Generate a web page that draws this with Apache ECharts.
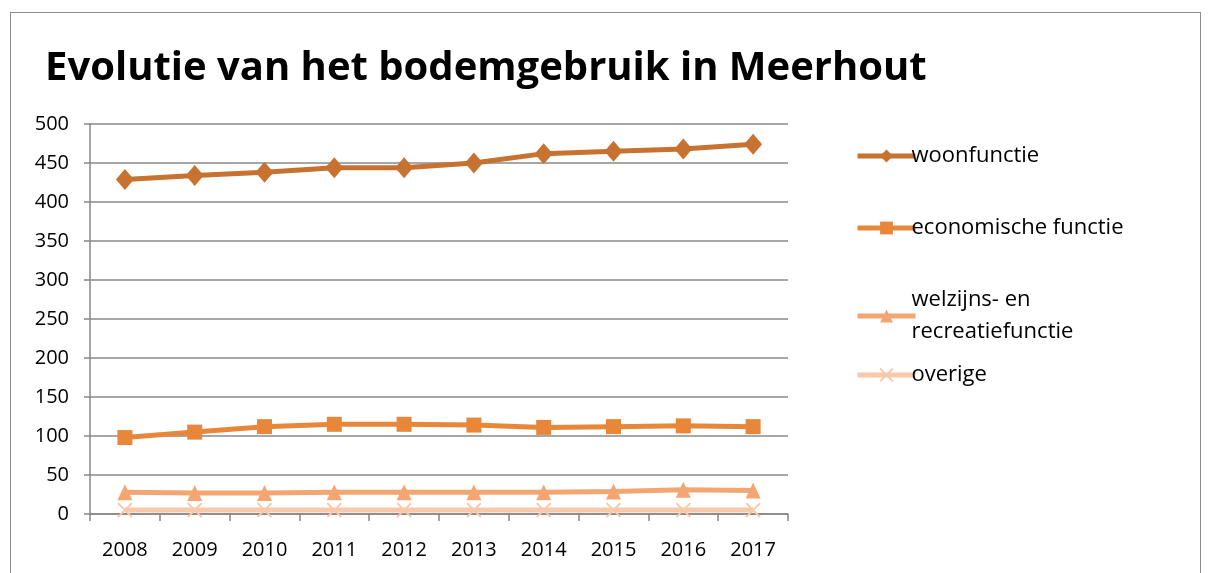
<!DOCTYPE html>
<html>
<head>
<meta charset="utf-8">
<script src="https://cdn.jsdelivr.net/npm/echarts@6/dist/echarts.min.js"></script>
<style>
  html, body { margin: 0; padding: 0; background: #fff; }
  #frame { position: absolute; left: 10px; top: 12px; width: 1189px; height: 570px; border: 1.5px solid #8c8c8c; border-bottom: none; }
  #chart { position: absolute; left: 0; top: 0; width: 1209px; height: 573px; }
</style>
</head>
<body>
<div id="frame"></div>
<div id="chart"></div>
<script>
// jaren op de x-as
var years = ['2008', '2009', '2010', '2011', '2012', '2013', '2014', '2015', '2016', '2017']
// waarden
var woonfunctie = [429, 434, 438, 444, 444, 450, 462, 465, 468, 474]
var economisch = [98, 105, 112, 115, 115, 114, 111, 112, 113, 112]
var welzijn = [28, 27, 27, 28, 28, 28, 28, 29, 31, 30]
var overige = [5, 5, 5, 5, 5, 5, 5, 5, 5, 5]

var names = ['woonfunctie', 'economische functie', 'welzijns- en recreatiefunctie', 'overige']
var colors = ['#C77230', '#E8873A', '#F4A672', '#F8C8AA']

var font = 'Open Sans, Noto Sans, sans-serif'
var crossPath = 'path://M0,0L10,10M10,0L0,10'

function legendFor(i, top) {
  return {
    data: [names[i]],
    left: 850,
    top: top,
    orient: 'vertical',
    itemWidth: 58,
    itemHeight: 16,
    itemGap: 0,
    lineStyle: { width: 5 },
    formatter: function (n) {
      return n === names[2] ? 'welzijns- en\nrecreatiefunctie' : n
    },
    textStyle: { fontFamily: font, fontSize: 22, color: '#000', padding: [0, 0, 0, -9], lineHeight: 32 }
  }
}

var myChart = echarts.init(document.getElementById('chart'))
var options = {
  animation: false,
  color: colors,
  title: {
    text: 'Evolutie van het bodemgebruik in Meerhout',
    left: 40,
    top: 44,
    textStyle: { fontFamily: font, fontSize: 40, fontWeight: 'bold', color: '#000' }
  },
  legend: [legendFor(0, 135), legendFor(1, 207), legendFor(2, 279), legendFor(3, 354)],
  grid: { left: 90, right: 421, top: 124, bottom: 59 },
  xAxis: {
    type: 'category',
    data: years,
    boundaryGap: true,
    axisLine: { lineStyle: { color: '#878787', width: 1.5 } },
    axisTick: { show: true, length: 7, lineStyle: { color: '#878787', width: 1.5 } },
    axisLabel: { fontFamily: font, fontSize: 20, color: '#000', margin: 26 }
  },
  yAxis: {
    type: 'value',
    min: 0,
    max: 500,
    interval: 50,
    axisLine: { show: true, lineStyle: { color: '#878787', width: 1.5 } },
    axisTick: { show: true, length: 6, lineStyle: { color: '#878787', width: 1.5 } },
    splitLine: { lineStyle: { color: '#8a8a8a', width: 1.5 } },
    axisLabel: { fontFamily: font, fontSize: 20, color: '#000', margin: 21 }
  },
  series: [
    {
      name: names[0], type: 'line', data: woonfunctie,
      symbol: 'diamond', symbolSize: [18, 21],
      lineStyle: { width: 5 }
    },
    {
      name: names[1], type: 'line', data: economisch,
      symbol: 'rect', symbolSize: 15,
      lineStyle: { width: 5 }
    },
    {
      name: names[2], type: 'line', data: welzijn,
      symbol: 'triangle', symbolSize: [15, 16],
      lineStyle: { width: 5 }
    },
    {
      name: names[3], type: 'line', data: overige,
      symbol: crossPath, symbolSize: 14,
      itemStyle: { borderColor: colors[3], borderWidth: 2 },
      lineStyle: { width: 5 }
    }
  ]
}
myChart.setOption(options)
</script>
</body>
</html>
